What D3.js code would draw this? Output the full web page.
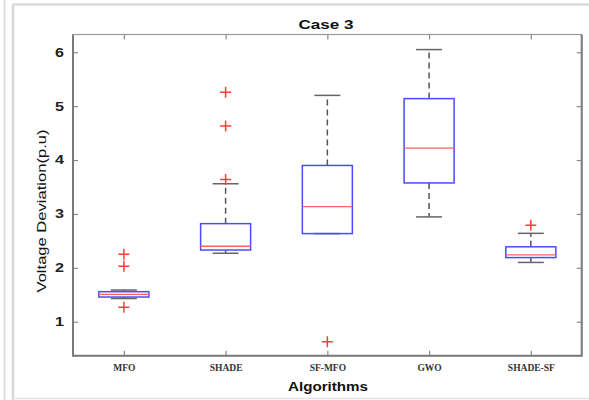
<!DOCTYPE html>
<html><head><meta charset="utf-8">
<script src="https://cdn.jsdelivr.net/npm/d3@7"></script>
<style>body{margin:0;background:#fff}svg{display:block}</style>
</head><body>
<script>
const categories = ["MFO","SHADE","SF-MFO","GWO","SHADE-SF"];
const whiskerLow  = [1.43, 2.27, 2.635, 2.945, 2.10];
const q1          = [1.458, 2.33, 2.635, 3.575, 2.19];
const medians     = [1.508, 2.40, 3.135, 4.22, 2.24];
const q3          = [1.557, 2.82, 3.90, 5.14, 2.39];
const whiskerHigh = [1.588, 3.56, 5.20, 6.05, 2.64];
const outliers    = [[2.25, 2.03, 1.27],[5.26, 4.63, 3.64],[0.63],[],[2.79]];
const yTicks = [1,2,3,4,5,6];

const W = 589, H = 400;
const L = 73, R = 581.7, T = 34.5, B = 355.7;
const svg = d3.select("body").append("svg").attr("width", W).attr("height", H);

// outer frame lines
svg.append("line").attr("x1",4.5).attr("x2",4.5).attr("y1",0).attr("y2",H).attr("stroke","#e0e0e0").attr("stroke-width",2);
svg.append("line").attr("x1",13).attr("x2",13).attr("y1",4).attr("y2",H).attr("stroke","#d8d8d8").attr("stroke-width",2.5);
svg.append("line").attr("x1",13).attr("x2",W).attr("y1",4.5).attr("y2",4.5).attr("stroke","#dcdcdc").attr("stroke-width",2.5);
svg.append("line").attr("x1",13).attr("x2",W).attr("y1",398.5).attr("y2",398.5).attr("stroke","#e4e4e4").attr("stroke-width",1.5);

const x = d3.scalePoint().domain(categories).range([L, R]).padding(0.5);
const y = d3.scaleLinear().domain([0.369, 6.330]).range([B, T]);

// axes (ticks inward)
const gL = svg.append("g").attr("transform",`translate(${L},0)`).call(d3.axisLeft(y).tickValues(yTicks).tickSizeInner(-5).tickSizeOuter(0).tickFormat(d3.format("d")));
const gR = svg.append("g").attr("transform",`translate(${R},0)`).call(d3.axisRight(y).tickValues(yTicks).tickSizeInner(-5).tickSizeOuter(0).tickFormat(""));
const gB = svg.append("g").attr("transform",`translate(0,${B})`).call(d3.axisBottom(x).tickSizeInner(-5).tickSizeOuter(0));
const gT = svg.append("g").attr("transform",`translate(0,${T})`).call(d3.axisTop(x).tickSizeInner(-5).tickSizeOuter(0).tickFormat(""));
[gL,gR,gB,gT].forEach(g=>{ g.select(".domain").remove(); g.selectAll(".tick line").attr("stroke","#8a8a8a").attr("stroke-width",1.2); });
gL.selectAll(".tick text").attr("x",-9).attr("font-family","Liberation Sans, Arial, sans-serif").attr("font-weight","bold").attr("font-size",12).attr("fill","#222")
  .attr("transform",function(){return null;});
gL.selectAll(".tick text").each(function(){ const t=d3.select(this); t.attr("textLength",9).attr("lengthAdjust","spacingAndGlyphs"); });
gB.selectAll(".tick text").attr("y",9).attr("font-family","Liberation Serif, Times New Roman, serif").attr("font-weight","bold").attr("font-size",9.5).attr("fill","#333");

// frame
svg.append("rect").attr("x",L).attr("y",T).attr("width",R-L).attr("height",B-T).attr("fill","none").attr("stroke","#9a9a9a").attr("stroke-width",1.2);
svg.append("path").attr("d",`M${L},${T}V${B}H${R}V${T}`).attr("fill","none").attr("stroke","#7a7a7a").attr("stroke-width",2);

// boxes
const bw = 50, cw = 26;
const data = categories.map((c,i)=>({c, wl:whiskerLow[i], q1:q1[i], md:medians[i], q3:q3[i], wh:whiskerHigh[i], out:outliers[i]}));
const g = svg.append("g");
data.forEach(d=>{
  const cx = x(d.c);
  // whiskers
  g.append("line").attr("x1",cx).attr("x2",cx).attr("y1",y(d.q3)).attr("y2",y(d.wh)).attr("stroke","#555").attr("stroke-width",1.5).attr("stroke-dasharray","6,4");
  g.append("line").attr("x1",cx).attr("x2",cx).attr("y1",y(d.q1)).attr("y2",y(d.wl)).attr("stroke","#555").attr("stroke-width",1.5).attr("stroke-dasharray","6,4");
  g.append("line").attr("x1",cx-cw/2).attr("x2",cx+cw/2).attr("y1",y(d.wh)).attr("y2",y(d.wh)).attr("stroke","#666").attr("stroke-width",1.5);
  g.append("line").attr("x1",cx-cw/2).attr("x2",cx+cw/2).attr("y1",y(d.wl)).attr("y2",y(d.wl)).attr("stroke","#666").attr("stroke-width",1.5);
  g.append("rect").attr("x",cx-bw/2).attr("y",y(d.q3)).attr("width",bw).attr("height",y(d.q1)-y(d.q3)).attr("fill","none").attr("stroke","#4a4aff").attr("stroke-width",1.5);
  g.append("line").attr("x1",cx-bw/2).attr("x2",cx+bw/2).attr("y1",y(d.md)).attr("y2",y(d.md)).attr("stroke","#ff6060").attr("stroke-width",1.3);
  d.out.forEach(v=>{
    const yy = y(v);
    g.append("path").attr("d",`M${cx-5.5},${yy}H${cx+5.5}M${cx},${yy-5.5}V${yy+5.5}`).attr("stroke","#ff3c3c").attr("stroke-width",1.5).attr("fill","none");
  });
});

// titles
svg.append("text").attr("x",326).attr("y",28.5).attr("text-anchor","middle").attr("font-family","Liberation Sans, Arial, sans-serif").attr("font-weight","bold").attr("font-size",13).attr("textLength",55).attr("lengthAdjust","spacingAndGlyphs").attr("fill","#111").text("Case 3");
svg.append("text").attr("x",328).attr("y",390.5).attr("text-anchor","middle").attr("font-family","Liberation Sans, Arial, sans-serif").attr("font-weight","bold").attr("font-size",13.5).attr("textLength",80).attr("lengthAdjust","spacingAndGlyphs").attr("fill","#111").text("Algorithms");
svg.append("text").attr("transform","translate(46,211) rotate(-90)").attr("text-anchor","middle").attr("font-family","Liberation Sans, Arial, sans-serif").attr("font-size",13.5).attr("textLength",163).attr("lengthAdjust","spacingAndGlyphs").attr("fill","#111").text("Voltage Deviation(p.u)");
</script>
</body></html>
